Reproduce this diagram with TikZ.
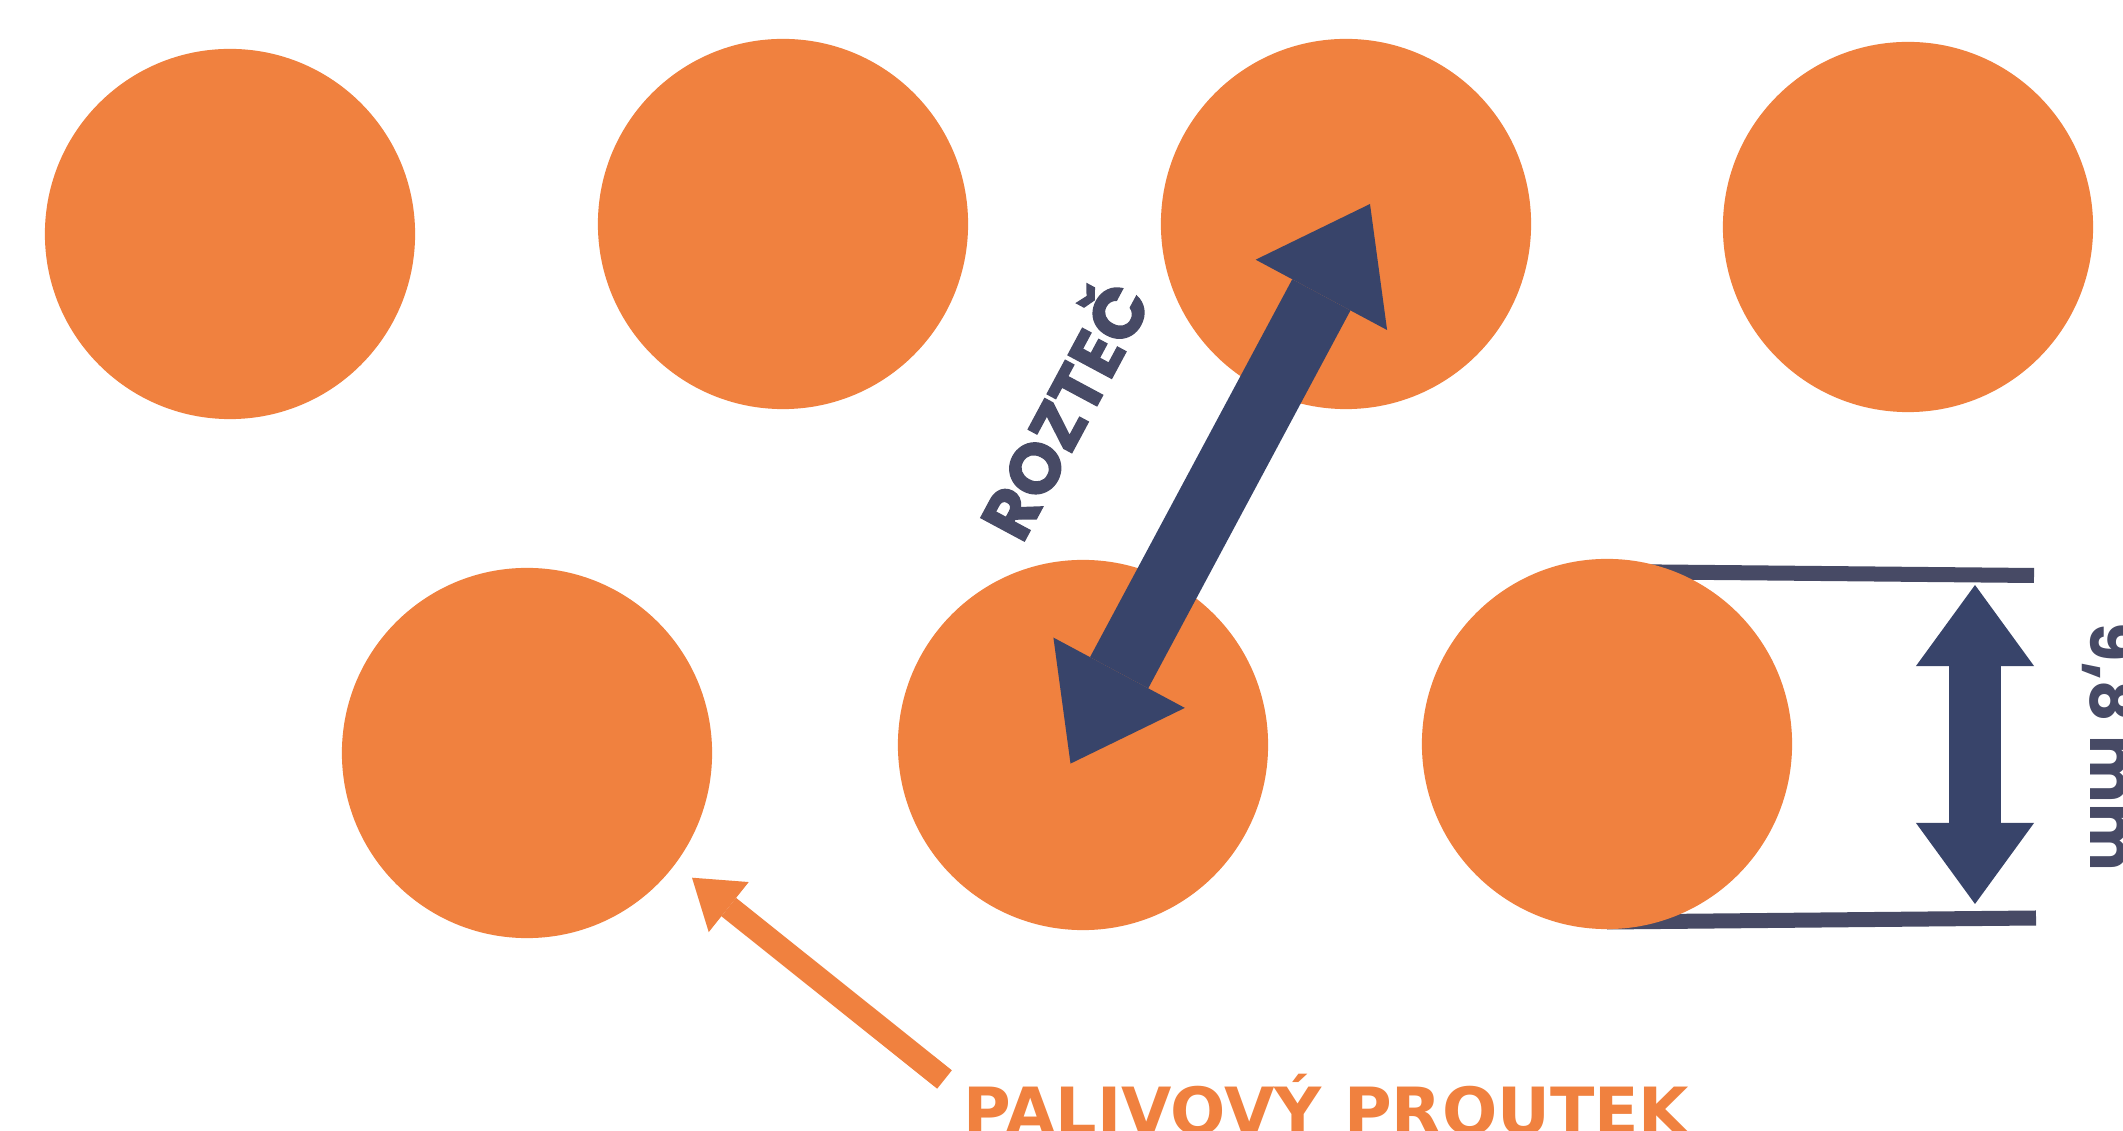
\documentclass[tikz,border=0pt]{standalone}
\usepackage{fontspec}
\newfontfamily\popfont{Poppins}
\newfontfamily\rozfont{Poppins}[BoldFeatures={FakeBold=2}]
\newfontfamily\dvfont{DejaVu Sans}
\usetikzlibrary{arrows.meta}
\definecolor{rodc}{HTML}{F0813F}
\definecolor{navyc}{HTML}{38446A}
\definecolor{slatec}{HTML}{474A65}
\begin{document}
\begin{tikzpicture}[x=0.01cm,y=-0.01cm,
  rod/.style={circle, fill=rodc, draw=none, minimum size=3.7cm, inner sep=0pt},
  dimline/.style={draw=slatec, line width=0.15cm},
  pitcharrow/.style={draw=navyc, line width=0.66cm, {Triangle[length=1.03cm,width=1.49cm,line width=0pt]}-{Triangle[length=1.03cm,width=1.49cm,line width=0pt]}},
  diaarrow/.style={draw=navyc, line width=0.52cm, {Triangle[length=0.81cm,width=1.18cm,line width=0pt]}-{Triangle[length=0.81cm,width=1.18cm,line width=0pt]}},
  pointer/.style={draw=rodc, line width=0.235cm, -{Triangle[length=0.47cm,width=0.64cm,line width=0pt]}},
  lbl/.style={inner sep=0pt, font=\popfont\bfseries\fontsize{18.2pt}{20pt}\selectfont, text=slatec},
  rozlbl/.style={inner sep=0pt, font=\rozfont\bfseries\fontsize{20pt}{22pt}\selectfont, text=slatec},
  rodlbl/.style={inner sep=0pt, font=\dvfont\bfseries\fontsize{18.5pt}{20pt}\selectfont, text=rodc}
]
\useasboundingbox (0,0) rectangle (2123,1131);
\fill[white] (0,0) rectangle (2123,1131);

% dimension lines (under the rod)
\coordinate (d1a) at (1607,571.5);
\coordinate (d1b) at (2034,575.5);
\coordinate (d2a) at (1607,922);
\coordinate (d2b) at (2036,918);
\draw[dimline] (d1a) -- (d1b);
\draw[dimline] (d2a) -- (d2b);

% rods
\node[rod] (a) at (230,234) {};
\node[rod] (b) at (783,224) {};
\node[rod] (c) at (1346,224) {};
\node[rod] (d) at (1908,227) {};
\node[rod] (e) at (527,753) {};
\node[rod] (f) at (1083,745) {};
\node[rod] (g) at (1607,744) {};

% pitch arrow
\coordinate (p1) at (1070.5,763.6);
\coordinate (p2) at (1370,204);
\draw[pitcharrow] (p1) -- (p2);

% diameter arrow
\coordinate (q1) at (1975,585);
\coordinate (q2) at (1975,904);
\draw[diaarrow] (q1) -- (q2);

% pointer to rod
\coordinate (r1) at (944.5,1079.5);
\coordinate (r2) at (692,877.7);
\draw[pointer] (r1) -- (r2);

% labels
\node[rozlbl, rotate=61.8, anchor=base west] (t1) at (1022,545.5) {ROZTEČ};
\node[lbl, rotate=-90, anchor=base] (t2) at (2090,747) {9,8 mm};
\node[rodlbl, anchor=base west] (t3) at (963,1135) {PALIVOVÝ PROUTEK};
\end{tikzpicture}
\end{document}
